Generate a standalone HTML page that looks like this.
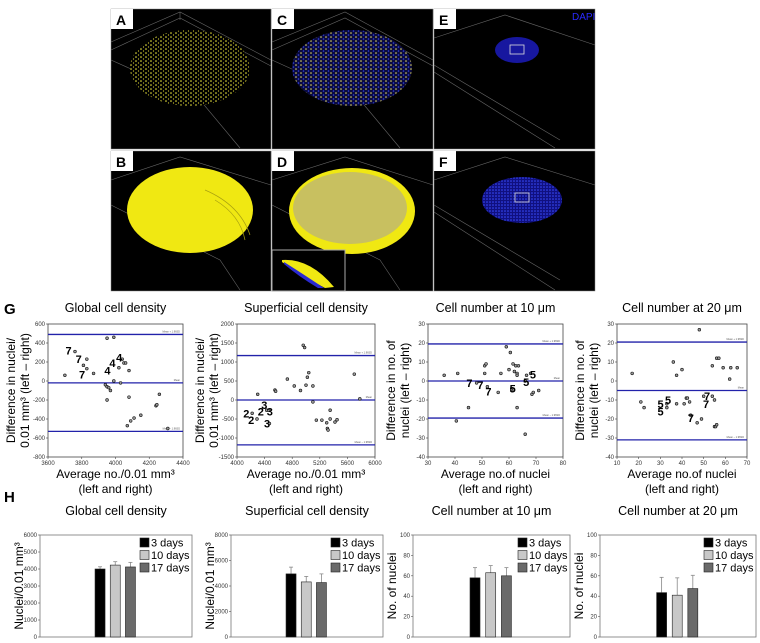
<!DOCTYPE html>
<html><head><meta charset="utf-8">
<style>
html,body{margin:0;padding:0;background:#fff;}
svg{display:block;font-family:"Liberation Sans",Arial,sans-serif;}
</style></head>
<body>
<svg id="fig" width="760" height="643" viewBox="0 0 760 643" xmlns="http://www.w3.org/2000/svg">
<defs>
  <pattern id="ydots" width="5" height="4" patternUnits="userSpaceOnUse">
    <rect width="5" height="4" fill="#000"/>
    <circle cx="1" cy="1" r="0.8" fill="#f4ee40"/>
    <circle cx="3.5" cy="3" r="0.6" fill="#d8d030"/>
  </pattern>
  <pattern id="ybdots" width="5" height="4" patternUnits="userSpaceOnUse">
    <rect width="5" height="4" fill="#0a0a40"/>
    <circle cx="1" cy="1" r="0.8" fill="#e8e060"/>
    <circle cx="3.5" cy="3" r="0.8" fill="#3040e0"/>
  </pattern>
  <pattern id="bdots" width="3" height="3" patternUnits="userSpaceOnUse">
    <rect width="3" height="3" fill="#101080"/>
    <circle cx="1" cy="1" r="0.8" fill="#3a4cff"/>
  </pattern>
</defs>

<g>
  <g>
    <rect x="111" y="9" width="160" height="140" fill="#000" stroke="#888" stroke-width="0.5"/>
    <path d="M111 42 L180 12 L271 60 M111 60 L200 100 L240 148 M180 12 L180 20 M111 50 L180 18 L271 66" stroke="#666" stroke-width="0.6" fill="none"/>
    <ellipse cx="190" cy="68" rx="60" ry="38" fill="url(#ydots)"/>
    <rect x="111" y="9" width="22" height="20" fill="#fff"/><text x="116" y="25" font-size="14" font-weight="bold">A</text>
  </g>
  <g>
    <rect x="272" y="9" width="161" height="140" fill="#000" stroke="#888" stroke-width="0.5"/>
    <path d="M272 42 L345 12 L433 60 M272 60 L360 100 L400 148 M272 50 L345 18 L433 66" stroke="#666" stroke-width="0.6" fill="none"/>
    <ellipse cx="352" cy="68" rx="60" ry="38" fill="url(#ybdots)"/>
    <rect x="272" y="9" width="22" height="20" fill="#fff"/><text x="277" y="25" font-size="14" font-weight="bold">C</text>
  </g>
  <g>
    <rect x="434" y="9" width="161" height="140" fill="#000" stroke="#888" stroke-width="0.5"/>
    <path d="M434 38 L505 15 L595 45 M434 65 L560 140 M434 72 L555 148" stroke="#666" stroke-width="0.6" fill="none"/>
    <ellipse cx="517" cy="50" rx="22" ry="13" fill="#1a1ab0" opacity="0.9"/>
    <rect x="510" y="45" width="14" height="9" fill="none" stroke="#ddd" stroke-width="0.8"/>
    <rect x="434" y="9" width="22" height="20" fill="#fff"/><text x="439" y="25" font-size="14" font-weight="bold">E</text>
    <text x="572" y="20" font-size="10" fill="#2a2aff">DAPI</text>
  </g>
  <g>
    <rect x="111" y="151" width="160" height="140" fill="#000" stroke="#888" stroke-width="0.5"/>
    <path d="M111 180 L180 157 L271 185 M111 205 L220 260 L240 290" stroke="#666" stroke-width="0.6" fill="none"/>
    <ellipse cx="190" cy="210" rx="63" ry="43" fill="#f0e812"/>
    <path d="M205 190 Q240 205 250 235 M215 200 Q240 215 245 240" stroke="#a8a010" stroke-width="0.7" fill="none"/>
    <rect x="111" y="151" width="22" height="20" fill="#fff"/><text x="116" y="167" font-size="14" font-weight="bold">B</text>
  </g>
  <g>
    <rect x="272" y="151" width="161" height="140" fill="#000" stroke="#888" stroke-width="0.5"/>
    <path d="M272 180 L345 157 L433 185 M272 205 L380 260 L400 290" stroke="#666" stroke-width="0.6" fill="none"/>
    <ellipse cx="352" cy="211" rx="63" ry="43" fill="#f0e812"/>
    <ellipse cx="350" cy="208" rx="57" ry="36" fill="#c8c060"/>
    <rect x="272" y="151" width="22" height="20" fill="#fff"/><text x="277" y="167" font-size="14" font-weight="bold">D</text>
    <rect x="272" y="250" width="73" height="41" fill="#000" stroke="#aaa" stroke-width="1"/>
    <path d="M282 260 Q310 258 334 287 L325 288 Q300 275 282 262 Z" fill="#f0e812"/>
    <path d="M284 262 Q300 272 324 288 L318 288 Q298 276 284 264 Z" fill="#2a2ad0"/>
  </g>
  <g>
    <rect x="434" y="151" width="161" height="140" fill="#000" stroke="#888" stroke-width="0.5"/>
    <path d="M434 180 L505 157 L595 185 M434 205 L560 280 M434 212 L555 290" stroke="#666" stroke-width="0.6" fill="none"/>
    <ellipse cx="522" cy="200" rx="40" ry="23" fill="url(#bdots)"/>
    <rect x="515" y="193" width="14" height="9" fill="none" stroke="#ddd" stroke-width="0.8"/>
    <rect x="434" y="151" width="22" height="20" fill="#fff"/><text x="439" y="167" font-size="14" font-weight="bold">F</text>
  </g>
</g>

<text x="4" y="314" font-size="15" font-weight="bold">G</text>
<text x="4" y="502" font-size="15" font-weight="bold">H</text>
<g id="charts"></g>
</svg>

<script>
const gTitles = ["Global cell density","Superficial cell density","Cell number at 10 \u03bcm","Cell number at 20 \u03bcm"];
const g1X = [3700,3760,3810,3830,3830,3870,3940,3950,3950,3960,3950,3970,3990,3990,4020,4030,4040,4050,4060,4070,4080,4080,4090,4110,4150,4240,4245,4260,4310];
const g1Y = [60,310,165,230,130,80,-40,450,-60,-70,-200,-100,460,0,140,-20,230,190,190,-470,110,-170,-420,-390,-360,-260,-250,-140,-500];
const g1Lines = [490,-20,-530];
const g1LabX = [3740,3800,3820,4040,4000,3970];
const g1LabY = [320,230,70,250,190,110];
const g1LabT = ["7","7","7","4","4","4"];
const g1XTicks = [3600,3800,4000,4200,4400];
const g1YTicks = [-800,-600,-400,-200,0,200,400,600];

const g2X = [4300,4550,4560,4730,4830,4920,4960,4980,5000,5020,5040,5100,5100,5150,5230,5300,5310,5320,5350,5350,5420,5450,5700,5780,4220,4290,4430,4460,4470];
const g2Y = [150,260,230,550,370,250,1440,1380,390,600,720,370,-50,-530,-530,-600,-750,-790,-270,-500,-580,-520,680,30,-350,-500,-270,-270,-620];
const g2Lines = [1170,0,-1180];
const g2LabX = [4180,4250,4390,4440,4520,4480];
const g2LabY = [-350,-530,-300,-130,-300,-620];
const g2LabT = ["2","2","2","3","3","3"];
const g2XTicks = [4000,4400,4800,5200,5600,6000];
const g2YTicks = [-1500,-1000,-500,0,500,1000,1500,2000];

const g3X = [36,41,45,40.5,48,51,51,51.5,52,56,57,59,60,60.5,61,61,61.5,62,62.5,63,63,63,63.5,66,66,66.5,68,68.5,69,71];
const g3Y = [3,4,-14,-21,-1,4,8,9,-3,-6,4,18,6,15,-5,-4,9,5,8,4,3,-14,8,-28,0,3,4,-7,-6,-5];
const g3Lines = [19.5,0,-19.5];
const g3LabX = [46.5,50.5,53.5,70,67.5,62.5];
const g3LabY = [-1,-2,-5.5,3.5,-0.5,-4];
const g3LabT = ["7","7","7","5","5","5"];
const g3XTicks = [30,40,50,60,70,80];
const g3YTicks = [-40,-30,-20,-10,0,10,20,30];

const g4X = [17,21,22.5,33,33,37.5,36,37.5,40,41,42,42.5,43.5,44,48,49,50,54,54,55,55,55.5,56,57,56,59,62,62.5,65.5,47];
const g4Y = [4,-11,-14,-12,-14,3,10,-12,6,-12,-9,-9,-11,-18,27,-20,-8,8,-8,-10,-24,-24,12,12,-23,7,1,7,7,-22];
const g4Lines = [20.5,-5,-31];
const g4LabX = [31.5,31.5,35,53,52.5,45.5];
const g4LabY = [-12,-16,-10,-8,-12,-19.5];
const g4LabT = ["5","5","5","7","7","7"];
const g4XTicks = [10,20,30,40,50,60,70];
const g4YTicks = [-40,-30,-20,-10,0,10,20,30];

const hTitles = ["Global cell density","Superficial cell density","Cell number at 10 \u03bcm","Cell number at 20 \u03bcm"];
const hGroups = ["3 days","10 days","17 days"];
const h1Vals = [4000,4230,4120]; const h1Err = [130,200,270]; const h1Ticks = [0,1000,2000,3000,4000,5000,6000];
const h2Vals = [4950,4320,4270]; const h2Err = [530,430,680]; const h2Ticks = [0,2000,4000,6000,8000];
const h3Vals = [58,63,60]; const h3Err = [10,7,8]; const h3Ticks = [0,20,40,60,80,100];
const h4Vals = [43.5,41,47.5]; const h4Err = [15,17,13]; const h4Ticks = [0,20,40,60,80,100];

const NS = "http://www.w3.org/2000/svg";
const root = document.getElementById("charts");
function mk(tag, attrs, parent, txt){
  const e = document.createElementNS(NS, tag);
  for (const k in attrs) e.setAttribute(k, attrs[k]);
  if (txt !== undefined) e.textContent = txt;
  (parent||root).appendChild(e);
  return e;
}

const scat = [
  {x0:48,x1:183,y0:324,y1:457,X:g1X,Y:g1Y,L:g1Lines,lx:g1LabX,ly:g1LabY,lt:g1LabT,xt:g1XTicks,yt:g1YTicks,
   yl:["Difference in nuclei/","0.01 mm\u00b3 (left \u2013 right)"],xl:["Average no./0.01 mm\u00b3","(left and right)"]},
  {x0:237,x1:375,y0:324,y1:457,X:g2X,Y:g2Y,L:g2Lines,lx:g2LabX,ly:g2LabY,lt:g2LabT,xt:g2XTicks,yt:g2YTicks,
   yl:["Difference in nuclei/","0.01 mm\u00b3 (left \u2013 right)"],xl:["Average no./0.01 mm\u00b3","(left and right)"]},
  {x0:428,x1:563,y0:324,y1:457,X:g3X,Y:g3Y,L:g3Lines,lx:g3LabX,ly:g3LabY,lt:g3LabT,xt:g3XTicks,yt:g3YTicks,
   yl:["Difference in no. of","nuclei (left \u2013 right)"],xl:["Average no.of nuclei","(left and right)"]},
  {x0:617,x1:747,y0:324,y1:457,X:g4X,Y:g4Y,L:g4Lines,lx:g4LabX,ly:g4LabY,lt:g4LabT,xt:g4XTicks,yt:g4YTicks,
   yl:["Difference in no. of","nuclei (left \u2013 right)"],xl:["Average no.of nuclei","(left and right)"]}
];

scat.forEach((c, i) => {
  const g = mk("g", {});
  
  
  const xmin = c.xt[0], xmax = c.xt[c.xt.length-1], ymin = c.yt[0], ymax = c.yt[c.yt.length-1];
  const sx = v => c.x0 + (v - xmin) / (xmax - xmin) * (c.x1 - c.x0);
  const sy = v => c.y1 - (v - ymin) / (ymax - ymin) * (c.y1 - c.y0);
  const cx = (c.x0 + c.x1) / 2;
  const t = mk("text", {x:cx, y:312, "font-size":12.5, "text-anchor":"middle"}, g, gTitles[i]);
  
  
  mk("rect", {x:c.x0, y:c.y0, width:c.x1-c.x0, height:c.y1-c.y0, fill:"#fff", stroke:"#444", "stroke-width":0.8}, g);
  c.yt.forEach(v => {
    mk("line", {x1:c.x0-2, x2:c.x0, y1:sy(v), y2:sy(v), stroke:"#444", "stroke-width":0.6}, g);
    mk("text", {x:c.x0-3, y:sy(v)+2, "font-size":6, "text-anchor":"end", fill:"#333"}, g, v);
  });
  c.xt.forEach(v => {
    mk("line", {x1:sx(v), x2:sx(v), y1:c.y1, y2:c.y1+2, stroke:"#444", "stroke-width":0.6}, g);
    mk("text", {x:sx(v), y:c.y1+8, "font-size":6, "text-anchor":"middle", fill:"#333"}, g, v);
  });
  const names = ["upper-limit-line","mean-line","lower-limit-line"];
  c.L.forEach((v, k) => {
    const ln = mk("line", {x1:c.x0, x2:c.x1, y1:sy(v), y2:sy(v), stroke:"#2222aa", "stroke-width":1.3}, g);
    
    
    mk("text", {x:c.x1-3, y:sy(v)-2, "font-size":2.5, "text-anchor":"end", fill:"#555"}, g, k===1?"Mean":(k===0?"Mean + 1.96SD":"Mean \u2013 1.96SD"));
  });
  c.X.forEach((v, k) => {
    const p = mk("circle", {cx:sx(v), cy:sy(c.Y[k]), r:1.4, fill:"#999", stroke:"#111", "stroke-width":0.6}, g);
    
    
  });
  c.lx.forEach((v, k) => {
    const l = mk("text", {x:sx(v), y:sy(c.ly[k])+4, "font-size":11, "font-weight":"bold", "text-anchor":"end"}, g, c.lt[k]);
    
    
  });
  const ym = (c.y0 + c.y1) / 2;
  const ya = mk("text", {transform:`translate(${c.x0-33},${ym}) rotate(-90)`, "font-size":12, "text-anchor":"middle"}, g);
  
  
  mk("tspan", {x:0, y:0}, ya, c.yl[0]);
  mk("tspan", {x:0, y:14}, ya, c.yl[1]);
  const xa = mk("text", {x:cx, y:478, "font-size":12, "text-anchor":"middle"}, g, c.xl[0]);
  
  
  const xb = mk("text", {x:cx, y:493, "font-size":12, "text-anchor":"middle"}, g, c.xl[1]);
  
  
});

const bars = [
  {x0:40,x1:192,V:h1Vals,E:h1Err,T:h1Ticks,yl:"Nuclei/0.01 mm\u00b3"},
  {x0:231,x1:383,V:h2Vals,E:h2Err,T:h2Ticks,yl:"Nuclei/0.01 mm\u00b3"},
  {x0:413,x1:570,V:h3Vals,E:h3Err,T:h3Ticks,yl:"No. of nuclei"},
  {x0:600,x1:756,V:h4Vals,E:h4Err,T:h4Ticks,yl:"No. of nuclei"}
];
const fills = ["#000","#c8c8c8","#6a6a6a"];
const by0 = 535, by1 = 637;
bars.forEach((c, i) => {
  const g = mk("g", {});
  
  
  const ymax = c.T[c.T.length-1];
  const sy = v => by1 - v / ymax * (by1 - by0);
  const w = c.x1 - c.x0;
  const t = mk("text", {x:c.x0 + w/2, y:515, "font-size":12.5, "text-anchor":"middle"}, g, hTitles[i]);
  
  
  mk("rect", {x:c.x0, y:by0, width:w, height:by1-by0, fill:"#fff", stroke:"#777", "stroke-width":0.8}, g);
  c.T.forEach(v => {
    mk("line", {x1:c.x0-2, x2:c.x0, y1:sy(v), y2:sy(v), stroke:"#555", "stroke-width":0.6}, g);
    mk("text", {x:c.x0-3, y:sy(v)+2, "font-size":6, "text-anchor":"end", fill:"#333"}, g, v);
  });
  c.V.forEach((v, k) => {
    const cxp = c.x0 + w * (0.395 + 0.1 * k);
    mk("line", {x1:cxp, x2:cxp, y1:sy(v), y2:sy(v + c.E[k]), stroke:"#888", "stroke-width":0.8}, g);
    mk("line", {x1:cxp-2, x2:cxp+2, y1:sy(v + c.E[k]), y2:sy(v + c.E[k]), stroke:"#888", "stroke-width":0.8}, g);
    const b = mk("rect", {x:cxp-5, y:sy(v), width:10, height:by1-sy(v), fill:fills[k], stroke:"#222", "stroke-width":0.6}, g);
    
    
  });
  hGroups.forEach((lab, k) => {
    const lg = mk("g", {}, g);
    
    
    const lx = c.x1 - 52, ly = by0 + 3 + k * 12.5;
    mk("rect", {x:lx, y:ly, width:9, height:9, fill:fills[k], stroke:"#222", "stroke-width":0.6}, lg);
    mk("text", {x:lx+11, y:ly+8.5, "font-size":11}, lg, lab);
  });
  const ya = mk("text", {transform:`translate(${c.x0-17},${(by0+by1)/2}) rotate(-90)`, "font-size":12, "text-anchor":"middle"}, g, c.yl);
  
  
});
</script>
</body></html>
